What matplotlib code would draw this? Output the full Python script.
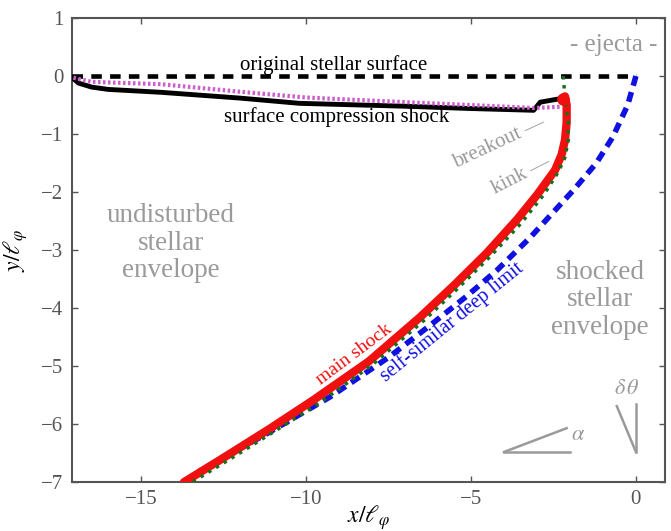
import matplotlib
matplotlib.use("Agg")
import matplotlib.pyplot as plt

plt.rcParams['font.family'] = ['Liberation Serif', 'DejaVu Serif']
plt.rcParams['mathtext.fontset'] = 'stix'

# ---- data ----
surface_x = [-17.1, 0.0]
surface_y = [0.0, 0.0]

selfsim_x = [0.0, -0.25, -0.7, -1.2, -1.9, -3.2, -4.2, -5.1, -6.2, -7.5, -9.27, -11.3, -13.2, -13.55]
selfsim_y = [0.0, -0.5, -1.05, -1.5, -1.97, -2.78, -3.34, -3.78, -4.28, -4.85, -5.53, -6.2, -6.8, -7.0]

main_x = [-2.15, -2.1, -2.1, -2.15, -2.25, -2.45, -3.0, -3.6, -4.52, -5.5, -6.55, -8.1, -9.79, -11.1, -12.5, -13.7]
main_y = [-0.35, -0.5, -0.8, -1.1, -1.35, -1.62, -2.05, -2.47, -3.05, -3.6, -4.16, -4.92, -5.59, -6.08, -6.58, -7.0]

sim_x = [-2.2, -2.15, -2.05, -2.05, -2.15, -2.35, -2.8, -3.5, -4.4, -5.4, -6.4, -8.0, -9.6, -11.0, -12.3, -13.45]
sim_y = [0.0, -0.4, -0.8, -1.1, -1.4, -1.65, -2.05, -2.55, -3.1, -3.66, -4.2, -4.98, -5.64, -6.14, -6.6, -7.0]

comp_x = [-17.1, -16.9, -16.5, -16.0, -14.4, -12.0, -10.2, -7.0, -5.0, -3.1, -2.9, -2.5, -2.2]
comp_y = [-0.02, -0.12, -0.19, -0.23, -0.28, -0.38, -0.47, -0.52, -0.56, -0.59, -0.45, -0.41, -0.38]

mag_x = [-17.05, -16.5, -14.4, -12.0, -10.0, -7.0, -5.0, -3.1, -2.3]
mag_y = [-0.03, -0.1, -0.14, -0.27, -0.37, -0.45, -0.5, -0.55, -0.53]

xticks = [-15, -10, -5, 0]
yticks = [1, 0, -1, -2, -3, -4, -5, -6, -7]

gray = '#9a9a9a'

fig = plt.figure(figsize=(6.71, 5.31), dpi=100)
ax = fig.add_axes([0.107, 0.092, 0.884, 0.874])

ax.plot(surface_x, surface_y, color='black', lw=3.3, dashes=(2.3, 1.8), zorder=3)
ax.plot(selfsim_x, selfsim_y, color='#1010e0', lw=4.0, dashes=(1.8, 1.2), zorder=2)
ax.plot(main_x, main_y, color='#f01010', lw=6.0, solid_capstyle='round',
        solid_joinstyle='round', zorder=4)
ax.plot(sim_x, sim_y, color='#1a6e1a', lw=2.5, dashes=(1, 1.6), zorder=5)
ax.plot(comp_x, comp_y, color='black', lw=3.5, solid_joinstyle='round', zorder=4)
ax.plot(mag_x, mag_y, color='#cc5fcc', lw=3.0, dashes=(0.6, 0.6), zorder=5)
ax.plot([-2.2], [-0.4], 'o', color='#f01010', ms=8, zorder=5)

# angle sketches
ax.plot([-4.0, -2.0], [-6.48, -6.48], color=gray, lw=1.8)
ax.plot([-4.0, -2.1], [-6.48, -6.07], color=gray, lw=1.8)
ax.plot([0.0, 0.0], [-6.48, -5.66], color=gray, lw=1.8)
ax.plot([0.0, -0.58], [-6.48, -5.69], color=gray, lw=1.8)
ax.text(-1.75, -6.2, r'$\alpha$', color=gray, fontsize=16, ha='center', va='center')
ax.text(-0.28, -5.4, r'$\delta\,\theta$', color=gray, fontsize=16, ha='center', va='center')

# labels
ax.text(-9.15, 0.19, 'original stellar surface', fontsize=15, ha='center', va='center', color='black')
ax.text(-9.06, -0.71, 'surface compression shock', fontsize=15, ha='center', va='center', color='black')
ax.text(-0.67, 0.53, '- ejecta -', fontsize=18, ha='center', va='center', color=gray)
ax.text(-4.15, -1.16, 'breakout —', fontsize=15, ha='center', va='center', color=gray, rotation=25)
ax.text(-3.48, -1.71, 'kink —', fontsize=15, ha='center', va='center', color=gray, rotation=27)
ax.text(-14.1, -2.88, 'undisturbed\nstellar\nenvelope', fontsize=19.5, ha='center', va='center',
        color=gray, linespacing=1.15)
ax.text(-1.09, -3.86, 'shocked\nstellar\nenvelope', fontsize=19.5, ha='center', va='center',
        color=gray, linespacing=1.15)
ax.text(-8.55, -4.8, 'main shock', fontsize=14, ha='center', va='center', color='#f01010', rotation=37)
ax.text(-5.58, -4.24, 'self-similar deep limit', fontsize=14.5, ha='center', va='center',
        color='#1010e0', rotation=39)

ax.set_xlim(-17.1, 0.88)
ax.set_ylim(-7, 1)
ax.set_xticks(xticks)
ax.set_yticks(yticks)
ax.set_xticklabels(['\u2212' + str(abs(t)) if t < 0 else str(t) for t in xticks])
ax.set_yticklabels(['\u2212' + str(abs(t)) if t < 0 else str(t) for t in yticks])
ax.tick_params(direction='in', top=True, right=True, labelsize=15, colors='#555555',
               length=4, width=1, pad=6)
for s in ax.spines.values():
    s.set_color('#555555')
    s.set_linewidth(1.5)
ax.set_xlabel(r'$x/\ell_\varphi$', fontsize=17)
ax.set_ylabel(r'$y/\ell_\varphi$', fontsize=17)
ax.xaxis.set_label_coords(0.5, -0.045)
ax.yaxis.set_label_coords(-0.07, 0.5)

fig.savefig('out.png', dpi=100)
